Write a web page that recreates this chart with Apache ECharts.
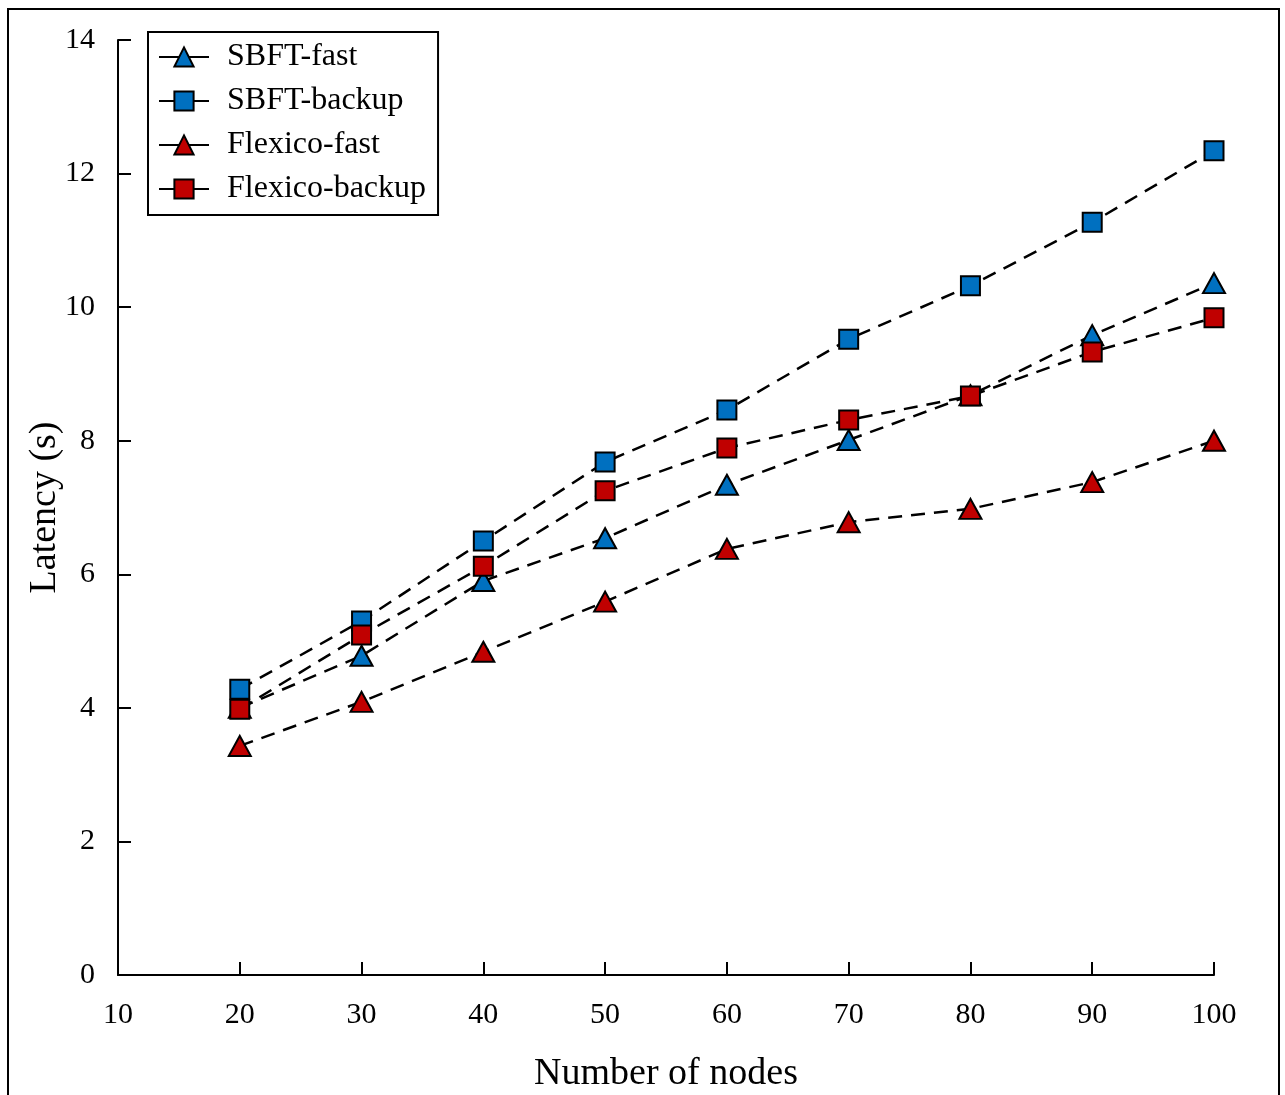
<!DOCTYPE html>
<html><head><meta charset="utf-8">
<script src="https://cdn.jsdelivr.net/npm/echarts@6/dist/echarts.min.js"></script>
<style>html,body{margin:0;padding:0;background:#fff}#c{width:1285px;height:1095px}</style>
</head><body><div id="c"></div>
<script>
const nodes = [20, 30, 40, 50, 60, 70, 80, 90, 100];
const sbftFast = [4.0, 4.78, 5.9, 6.54, 7.34, 8.01, 8.68, 9.58, 10.36];
const sbftBackup = [4.28, 5.30, 6.50, 7.68, 8.46, 9.52, 10.32, 11.27, 12.34];
const flexicoFast = [3.43, 4.09, 4.84, 5.59, 6.38, 6.78, 6.98, 7.38, 8.0];
const flexicoBackup = [3.98, 5.09, 6.12, 7.25, 7.89, 8.31, 8.67, 9.33, 9.84];
const seriesNames = ['SBFT-fast', 'SBFT-backup', 'Flexico-fast', 'Flexico-backup'];
const BLUE = '#0070C0', RED = '#C00000';
const FONT = 'Liberation Serif';

function mk(name, vals, color, symbol) {
  return {
    name: name, type: 'line',
    data: nodes.map((x, i) => [x, vals[i]]),
    symbol: symbol,
    symbolSize: symbol === 'triangle' ? [22, 20] : 19,
    itemStyle: { color: color, borderColor: '#000', borderWidth: 2 },
    lineStyle: { color: '#000', width: 2.5, type: [14, 9] },
    emphasis: { disabled: true },
    animation: false
  };
}

const chart = echarts.init(document.getElementById('c'));
chart.setOption({
  animation: false,
  backgroundColor: '#fff',
  graphic: [{
    type: 'rect', shape: { x: 8, y: 9, width: 1271, height: 1110 },
    style: { fill: 'none', stroke: '#000', lineWidth: 2 }, silent: true
  }],
  grid: { left: 118, right: 71, top: 40, bottom: 120, containLabel: false, outerBoundsMode: 'none' },
  legend: {
    left: 148, top: 32,
    orient: 'vertical',
    data: seriesNames,
    itemWidth: 50, itemHeight: 24, itemGap: 10,
    padding: [8, 12, 9, 10],
    borderColor: '#000', borderWidth: 2,
    lineStyle: { type: 'solid', color: '#000', width: 2 },
    textStyle: { fontFamily: FONT, fontSize: 32, color: '#000', padding: [0, 0, 0, 13], lineHeight: 34 }
  },
  xAxis: {
    type: 'value', min: 10, max: 100, interval: 10,
    name: 'Number of nodes', nameLocation: 'middle', nameGap: 80, nameMoveOverlap: false,
    nameTextStyle: { fontFamily: FONT, fontSize: 38, color: '#000' },
    axisLine: { show: true, lineStyle: { color: '#000', width: 2 } },
    axisTick: { show: true, inside: true, length: 13, lineStyle: { color: '#000', width: 2 } },
    axisLabel: { fontFamily: FONT, fontSize: 30, color: '#000', margin: 25, showMinLabel: true, showMaxLabel: true },
    splitLine: { show: false }
  },
  yAxis: {
    type: 'value', min: 0, max: 14, interval: 2,
    name: 'Latency (s)', nameLocation: 'middle', nameGap: 54, nameMoveOverlap: false,
    nameTextStyle: { fontFamily: FONT, fontSize: 38, color: '#000' },
    axisLine: { show: true, lineStyle: { color: '#000', width: 2 } },
    axisTick: { show: true, inside: true, length: 13, lineStyle: { color: '#000', width: 2 } },
    axisLabel: { fontFamily: FONT, fontSize: 30, color: '#000', margin: 23 },
    splitLine: { show: false }
  },
  series: [
    mk(seriesNames[0], sbftFast, BLUE, 'triangle'),
    mk(seriesNames[1], sbftBackup, BLUE, 'rect'),
    mk(seriesNames[2], flexicoFast, RED, 'triangle'),
    mk(seriesNames[3], flexicoBackup, RED, 'rect')
  ]
});
</script></body></html>
